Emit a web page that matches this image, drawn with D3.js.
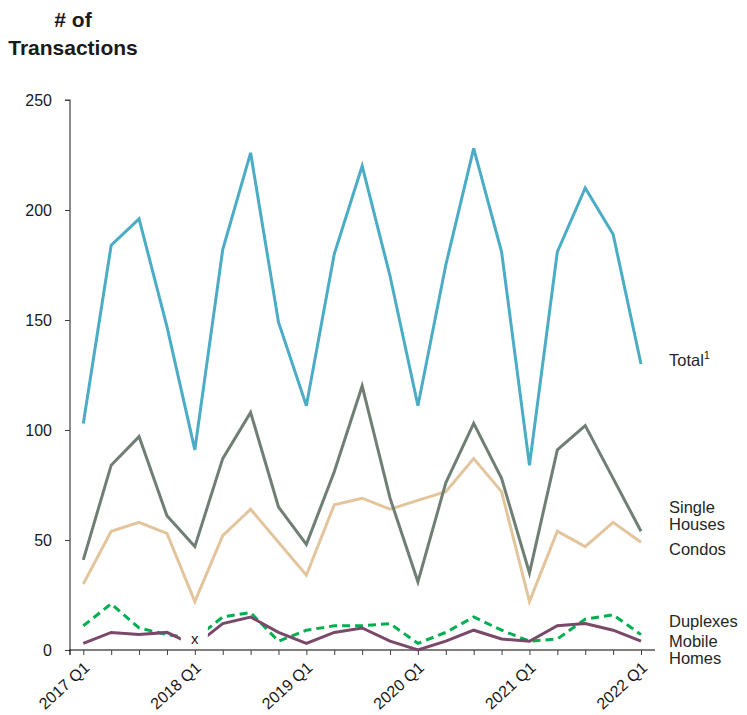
<!DOCTYPE html>
<html>
<head>
<meta charset="utf-8">
<script src="https://cdn.jsdelivr.net/npm/d3@7"></script>
<style>
  html, body { margin: 0; padding: 0; background: #fff; }
  svg { display: block; font-family: "Liberation Sans", Arial, sans-serif; }
</style>
</head>
<body>
<svg id="chart" width="747" height="715"></svg>
<script>
// Quarterly categories, 2017 Q1 .. 2022 Q1
const quarters = [
  "2017 Q1","2017 Q2","2017 Q3","2017 Q4",
  "2018 Q1","2018 Q2","2018 Q3","2018 Q4",
  "2019 Q1","2019 Q2","2019 Q3","2019 Q4",
  "2020 Q1","2020 Q2","2020 Q3","2020 Q4",
  "2021 Q1","2021 Q2","2021 Q3","2021 Q4",
  "2022 Q1"
];
const tickLabels = ["2017 Q1","2018 Q1","2019 Q1","2020 Q1","2021 Q1","2022 Q1"];
const yTicks = [0, 50, 100, 150, 200, 250];

// Transaction counts per quarter
const total        = [103,184,196,147, 91,182,226,149,111,180,220,170,111,175,228,181, 84,181,210,189,130];
const singleHouses = [ 41, 84, 97, 61, 47, 87,108, 65, 48, 81,120, 69, 31, 76,103, 78, 35, 91,102, 78, 54];
const condos       = [ 30, 54, 58, 53, 22, 52, 64, 49, 34, 66, 69, 64, 68, 72, 87, 72, 22, 54, 47, 58, 49];
const duplexes     = [ 11, 21, 10,  7,  5, 15, 17,  4,  9, 11, 11, 12,  3,  8, 15,  9,  4,  5, 14, 16,  7];
const mobileHomes  = [  3,  8,  7,  8,  2, 12, 15,  8,  3,  8, 10,  4,  0,  4,  9,  5,  4, 11, 12,  9,  4];

// Quarter whose values are suppressed ("x")
const suppressedQuarter = "2018 Q1";

const series = [
  { name: "Total",         values: total,        color: "#4BACC6", dash: null },
  { name: "Single Houses", values: singleHouses, color: "#6F7F74", dash: null },
  { name: "Condos",        values: condos,       color: "#E3C59D", dash: null },
  { name: "Duplexes",      values: duplexes,     color: "#00B050", dash: "8,5" },
  { name: "Mobile Homes",  values: mobileHomes,  color: "#7A4868", dash: null }
];

const svg = d3.select("#chart");
const plotLeft = 70, plotRight = 655, plotTop = 100, plotBottom = 650;

const x = d3.scalePoint()
  .domain(quarters)
  .range([83.3, 641])
  .padding(0);

const y = d3.scaleLinear()
  .domain([0, 250])
  .range([plotBottom, plotTop]);

const textColor = "#1a1a1a";

// Title
svg.append("text")
  .attr("x", 73).attr("y", 27)
  .attr("text-anchor", "middle")
  .attr("font-weight", "bold")
  .attr("font-size", 21)
  .attr("fill", textColor)
  .text("# of");
svg.append("text")
  .attr("x", 73).attr("y", 55)
  .attr("text-anchor", "middle")
  .attr("font-weight", "bold")
  .attr("font-size", 21)
  .attr("fill", textColor)
  .text("Transactions");

// Y axis
const yAxis = d3.axisLeft(y).tickValues(yTicks).tickSize(5).tickPadding(13);
const gy = svg.append("g")
  .attr("transform", `translate(${plotLeft},0)`)
  .call(yAxis);
gy.select(".domain").attr("stroke", "#404040").attr("stroke-width", 1.2)
  .attr("d", `M-5,${plotTop}H0V${plotBottom}`);
gy.selectAll(".tick line").attr("stroke", "#404040");
gy.selectAll(".tick text")
  .attr("font-size", 16)
  .attr("fill", textColor)
  .attr("font-family", "Liberation Sans, Arial, sans-serif");

// X axis
const xAxis = d3.axisBottom(x).tickSize(5).tickFormat(d => tickLabels.includes(d) ? d : "");
const gx = svg.append("g")
  .attr("transform", `translate(0,${plotBottom})`)
  .call(xAxis);
gx.select(".domain").attr("stroke", "#000").attr("stroke-width", 1.2)
  .attr("d", `M${plotLeft},5V0H${plotRight}`);
gx.selectAll(".tick line").attr("stroke", "#404040");
gx.selectAll(".tick text")
  .attr("font-size", 16)
  .attr("fill", textColor)
  .attr("font-family", "Liberation Sans, Arial, sans-serif")
  .attr("text-anchor", "end")
  .attr("dy", null)
  .attr("y", 0)
  .attr("transform", "translate(4,16) rotate(-42)")
  .attr("dominant-baseline", "middle");

// Lines
const line = d3.line()
  .x((d, i) => x(quarters[i]))
  .y(d => y(d));

// Draw small series first so larger ones sit on top in the upper region
const drawOrder = ["Duplexes", "Mobile Homes", "Condos", "Single Houses", "Total"];
drawOrder.forEach(name => {
  const s = series.find(t => t.name === name);
  svg.append("path")
    .datum(s.values)
    .attr("fill", "none")
    .attr("stroke", s.color)
    .attr("stroke-width", 3)
    .attr("stroke-linejoin", "miter")
    .attr("stroke-dasharray", s.dash)
    .attr("d", line);
});

// Suppressed-value marker
const sx = x(suppressedQuarter);
svg.append("rect")
  .attr("x", sx - 14).attr("y", 626)
  .attr("width", 27).attr("height", 22)
  .attr("fill", "#fff");
svg.append("text")
  .attr("x", sx).attr("y", 644)
  .attr("text-anchor", "middle")
  .attr("font-size", 15)
  .attr("fill", textColor)
  .text("x");

// Series labels on the right
const labelX = 669;
const labels = [
  { lines: ["Total"], sup: "1", y: 366 },
  { lines: ["Single", "Houses"], y: 513, gap: 17 },
  { lines: ["Condos"], y: 555 },
  { lines: ["Duplexes"], y: 627 },
  { lines: ["Mobile", "Homes"], y: 647, gap: 17 }
];
labels.forEach(l => {
  const t = svg.append("text")
    .attr("x", labelX).attr("y", l.y)
    .attr("font-size", 16.5)
    .attr("fill", "#262626");
  l.lines.forEach((ln, i) => {
    t.append("tspan")
      .attr("x", labelX)
      .attr("dy", i === 0 ? 0 : l.gap)
      .text(ln);
  });
  if (l.sup) {
    t.append("tspan")
      .attr("font-size", 11)
      .attr("dy", -7)
      .text(l.sup);
  }
});
</script>
</body>
</html>
